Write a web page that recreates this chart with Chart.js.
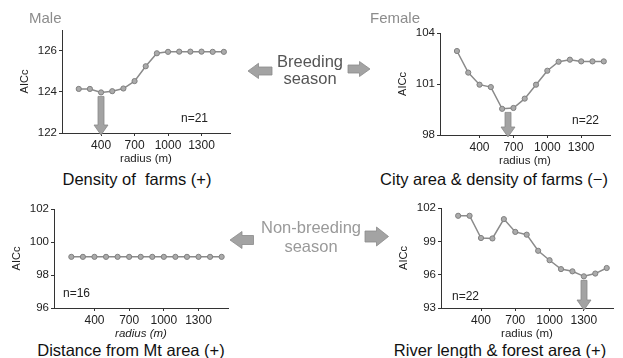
<!DOCTYPE html>
<html>
<head>
<meta charset="utf-8">
<script src="https://cdn.jsdelivr.net/npm/chart.js@4"></script>
<style>
  body { margin: 0; width: 623px; height: 358px; background: #fff; position: relative; overflow: hidden;
         font-family: "Liberation Sans", Arial, sans-serif; }
  canvas, .lbl, svg { position: absolute; }
  .lbl { white-space: pre; line-height: 1; }
  .ttl { font-size: 16.5px; color: #111; width: 300px; text-align: center; }
  .sex { font-size: 15px; color: #8c8c8c; }
  .n { font-size: 12px; color: #222; }
  .season { font-size: 16.5px; width: 160px; text-align: center; }
</style>
</head>
<body>
<canvas id="c1" width="220" height="146" style="left:16px;top:20px"></canvas>
<canvas id="c2" width="222" height="145" style="left:394px;top:23px"></canvas>
<canvas id="c3" width="226" height="142" style="left:8px;top:199px"></canvas>
<canvas id="c4" width="224" height="143" style="left:395px;top:198px"></canvas>

<div class="lbl sex" style="left:29px;top:10px">Male</div>
<div class="lbl sex" style="left:370px;top:10px">Female</div>

<div class="lbl n" style="left:181px;top:112px">n=21</div>
<div class="lbl n" style="left:572px;top:114px">n=22</div>
<div class="lbl n" style="left:63px;top:287px">n=16</div>
<div class="lbl n" style="left:452px;top:290px">n=22</div>

<div class="lbl ttl" style="left:-13px;top:171px">Density of  farms (+)</div>
<div class="lbl ttl" style="left:344px;top:171px">City area &amp; density of farms (−)</div>
<div class="lbl ttl" style="left:-19px;top:342px">Distance from Mt area (+)</div>
<div class="lbl ttl" style="left:350px;top:342px">River length &amp; forest area (+)</div>

<div class="lbl season" style="left:230px;top:53px;line-height:16.5px;color:#555">Breeding
season</div>
<div class="lbl season" style="left:231px;top:218px;line-height:18.5px;color:#9a9a9a">Non-breeding
season</div>

<svg width="623" height="358" style="left:0;top:0;pointer-events:none">
  <g fill="#a3a3a3" stroke="#8a8a8a" stroke-width="0.8">
    <polygon points="248,71 258.5,63.3 258.5,67 272,67 272,75 258.5,75 258.5,78.5"/>
    <polygon points="370,69 359.5,61.5 359.5,65 348,65 348,73 359.5,73 359.5,76.5"/>
    <polygon points="230,240 242,231.5 242,235.5 253.5,235.5 253.5,244.5 242,244.5 242,248.5"/>
    <polygon points="388.5,236.5 376.5,227 376.5,231 365,231 365,242 376.5,242 376.5,246"/>
  </g>
</svg>

<script>
const FONT = '"Liberation Sans", Arial, sans-serif';

// radius of the buffer (m)
const radius = [200, 300, 400, 500, 600, 700, 800, 900, 1000, 1100, 1200, 1300, 1400, 1500];
const xTicks = [400, 700, 1000, 1300];

// AICc values
const maleBreeding = [124.14, 124.14, 123.97, 124.03, 124.16, 124.52, 125.24, 125.87, 125.94, 125.95, 125.95, 125.95, 125.94, 125.94];
const femaleBreeding = [102.94, 101.67, 100.96, 100.82, 99.54, 99.59, 100.14, 100.96, 101.78, 102.31, 102.43, 102.33, 102.33, 102.33];
const maleNonBreeding = [99.1, 99.1, 99.1, 99.1, 99.1, 99.1, 99.1, 99.1, 99.1, 99.1, 99.1, 99.1, 99.1, 99.1];
const femaleNonBreeding = [101.3, 101.3, 99.3, 99.26, 101.0, 99.85, 99.6, 98.15, 97.3, 96.5, 96.3, 95.85, 96.1, 96.6];

const yTicksMaleBreeding = [122, 124, 126];
const yTicksFemaleBreeding = [98, 101, 104];
const yTicksMaleNon = [96, 98, 100, 102];
const yTicksFemaleNon = [93, 96, 99, 102];

// radius picked as best scale (arrow), null = none
const bestRadius = [400, 650, null, 1300];

function valueAt(vals, x) {
  for (let i = 0; i < radius.length - 1; i++) {
    if (x >= radius[i] && x <= radius[i + 1]) {
      const t = (x - radius[i]) / (radius[i + 1] - radius[i]);
      return vals[i] + t * (vals[i + 1] - vals[i]);
    }
  }
  return vals[0];
}

const downArrow = {
  id: 'downArrow',
  afterDatasetsDraw(chart, args, opts) {
    if (opts.at == null) return;
    const ctx = chart.ctx;
    const vals = chart.data.datasets[0].data.map(d => d.y);
    const cx = Math.round(chart.scales.x.getPixelForValue(opts.at));
    const top = chart.scales.y.getPixelForValue(valueAt(vals, opts.at)) + 4;
    const tip = chart.chartArea.bottom + 2;
    const sw = 3, hw = 7, hl = 10;
    ctx.save();
    ctx.beginPath();
    ctx.moveTo(cx - sw, top);
    ctx.lineTo(cx + sw, top);
    ctx.lineTo(cx + sw, tip - hl);
    ctx.lineTo(cx + hw, tip - hl);
    ctx.lineTo(cx, tip);
    ctx.lineTo(cx - hw, tip - hl);
    ctx.lineTo(cx - sw, tip - hl);
    ctx.closePath();
    ctx.fillStyle = '#a3a3a3';
    ctx.strokeStyle = '#888';
    ctx.lineWidth = 0.8;
    ctx.fill();
    ctx.stroke();
    ctx.restore();
  }
};

function makeChart(id, values, yMin, yMax, yTicks, arrowAt, italic) {
  return new Chart(document.getElementById(id), {
    type: 'line',
    data: {
      datasets: [{
        data: radius.map((r, i) => ({ x: r, y: values[i] })),
        borderColor: '#8a8a8a',
        borderWidth: 1.5,
        pointRadius: 2.6,
        pointBackgroundColor: '#ababab',
        pointBorderColor: '#808080',
        pointBorderWidth: 1,
        tension: 0
      }]
    },
    options: {
      responsive: false,
      animation: false,
      devicePixelRatio: 1,
      layout: { padding: { top: 10, right: 6, left: 0, bottom: 0 } },
      plugins: {
        legend: { display: false },
        tooltip: { enabled: false },
        downArrow: { at: arrowAt }
      },
      scales: {
        x: {
          type: 'linear', min: 50, max: 1555,
          afterBuildTicks: s => { s.ticks = xTicks.map(v => ({ value: v })); },
          afterFit: s => { s.height = 33; },
          grid: { drawOnChartArea: false, tickLength: 3, color: '#333' },
          border: { color: '#333', width: 1 },
          ticks: { autoSkip: false, maxRotation: 0, padding: 2, color: '#222',
                   font: { size: 12, family: FONT }, callback: v => String(v) },
          title: { display: true, text: 'radius (m)', color: '#222', padding: { top: 0, bottom: 0 },
                   font: { size: 11.5, family: FONT, style: italic ? 'italic' : 'normal' } }
        },
        y: {
          min: yMin, max: yMax,
          afterBuildTicks: s => { s.ticks = yTicks.map(v => ({ value: v })); },
          afterFit: s => { s.width = 46; },
          grid: { drawOnChartArea: false, tickLength: 3, color: '#333' },
          border: { color: '#333', width: 1 },
          ticks: { padding: 2, color: '#222', font: { size: 11.5, family: FONT } },
          title: { display: true, text: 'AICc', color: '#222', padding: { top: 2.5, bottom: 0 },
                   font: { size: 11, family: FONT } }
        }
      }
    },
    plugins: [downArrow]
  });
}

makeChart('c1', maleBreeding, 122, 127, yTicksMaleBreeding, bestRadius[0], false);
makeChart('c2', femaleBreeding, 98, 104, yTicksFemaleBreeding, bestRadius[1], false);
makeChart('c3', maleNonBreeding, 96, 102, yTicksMaleNon, bestRadius[2], true);
makeChart('c4', femaleNonBreeding, 93, 102, yTicksFemaleNon, bestRadius[3], false);
</script>
</body>
</html>
